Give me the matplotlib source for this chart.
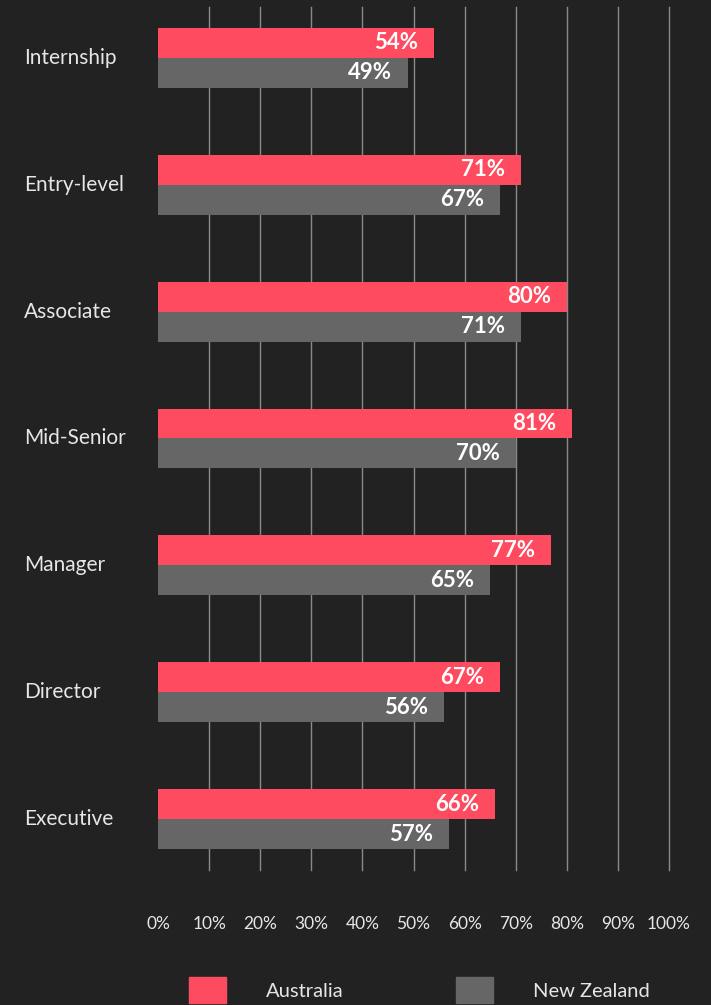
import numpy as np
import matplotlib.pyplot as plt
import matplotlib.transforms as mtransforms
from matplotlib.patches import Patch

# data
levels = ["Internship", "Entry-level", "Associate", "Mid-Senior", "Manager", "Director", "Executive"]
australia = [54, 71, 80, 81, 77, 67, 66]
new_zealand = [49, 67, 71, 70, 65, 56, 57]
ticks = [0, 10, 20, 30, 40, 50, 60, 70, 80, 90, 100]

bg = "#222222"
red = "#FF4B5F"
grey = "#666666"
txt = "#E6E6E6"

plt.rcParams['font.family'] = ['Lato', 'DejaVu Sans']

fig = plt.figure(figsize=(7.11, 10.05), dpi=100, facecolor=bg)
ax = fig.add_axes([158/711, 1 - 870/1005, (669 - 158)/711, (870 - 7)/1005])
ax.set_facecolor(bg)

y = np.arange(len(levels))
h = 0.236
bars_au = ax.barh(y - h/2, australia, height=h, color=red, zorder=3)
bars_nz = ax.barh(y + h/2, new_zealand, height=h, color=grey, zorder=3)

for bars, vals in [(bars_au, australia), (bars_nz, new_zealand)]:
    for b, v in zip(bars, vals):
        ax.annotate(f"{v}%", (v, b.get_y() + b.get_height()/2),
                    xytext=(-16, 0), textcoords="offset pixels",
                    ha="right", va="center", color="white",
                    fontsize=16, fontweight="bold", zorder=4)

ax.set_xlim(0, 100)
ax.set_ylim(6.4, -0.4)
for t in ticks[1:]:
    ax.axvline(t, color="#8A8A8A", lw=1, zorder=1, clip_on=False)

# category labels, left aligned near the figure edge
ax.set_yticks([])
trans = mtransforms.blended_transform_factory(fig.transFigure, ax.transData)
for yi, name in zip(y, levels):
    ax.text(24/711, yi, name, transform=trans, ha="left", va="center",
            color=txt, fontsize=15)

ax.set_xticks(ticks)
ax.set_xticklabels([f"{t}%" for t in ticks], color=txt, fontsize=12.5)
ax.tick_params(axis="x", length=0, pad=33)

for s in ax.spines.values():
    s.set_visible(False)

handles = [Patch(color=red, label="Australia"), Patch(color=grey, label="New Zealand")]
fig.legend(handles=handles, loc="center", bbox_to_anchor=(0.59, 1 - 990/1005),
           ncol=2, frameon=False, fontsize=14.5, labelcolor=txt,
           handlelength=1.8, handleheight=1.6, handletextpad=2.0,
           columnspacing=5.6)

fig.savefig("out.png", dpi=100, facecolor=bg)
